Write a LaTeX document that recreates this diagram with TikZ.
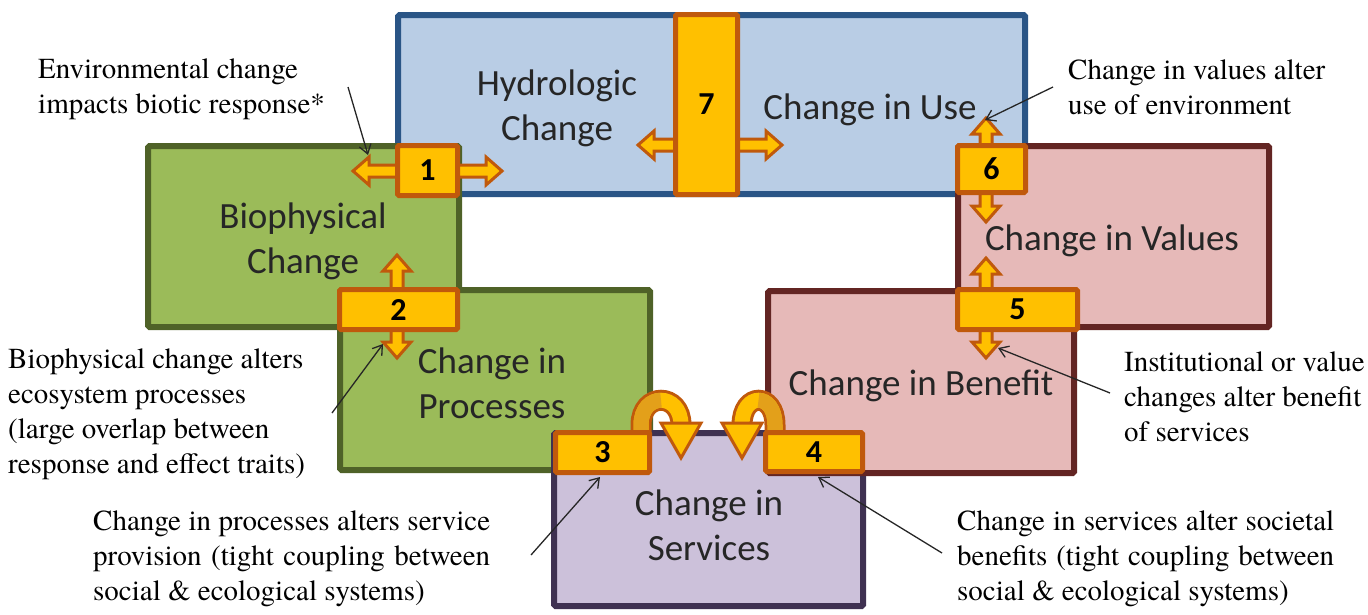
\documentclass[tikz,border=0pt]{standalone}
\usepackage{fontspec}
\newfontfamily\annofont{TeX Gyre Termes}
\newfontfamily\boxfont{Carlito}
\usetikzlibrary{arrows.meta}
\definecolor{bluefill}{HTML}{B9CDE5}
\definecolor{blueline}{HTML}{2A5586}
\definecolor{greenfill}{HTML}{9BBB59}
\definecolor{greenline}{HTML}{4F6228}
\definecolor{purpfill}{HTML}{CCC1DA}
\definecolor{purpline}{HTML}{3F3151}
\definecolor{pinkfill}{HTML}{E6B9B8}
\definecolor{pinkline}{HTML}{632523}
\definecolor{lblfill}{HTML}{FFC000}
\definecolor{lbldark}{HTML}{E3A01A}
\definecolor{lblline}{HTML}{C0590C}
\definecolor{txt}{HTML}{262626}
\tikzset{
  bigbox/.style={line width=6, inner sep=0, rounded corners=1.5},
  boxtext/.style={font=\boxfont\fontsize{37}{45}\selectfont, text=txt, align=center, inner sep=0, anchor=base},
  numbox/.style={fill=lblfill, draw=lblline, line width=5, inner sep=0, rounded corners=1.5,
     font=\boxfont\bfseries\fontsize{32}{36}\selectfont, text=black},
  blockarr/.style={fill=lblfill, draw=lblline, line width=3, line join=miter},
  anno/.style={font=\annofont\fontsize{29}{35}\selectfont, align=left, inner sep=0, anchor=base west, text=black},
  leader/.style={line width=1.3, draw=black!85, -{Straight Barb[length=9pt,width=12pt]}}
}
\newcommand\blockarrow[4]{%
  \begin{scope}[shift={(#1,#2)}, rotate=#3]
    \filldraw[blockarr] (0,-6) -- ({#4-16},-6) -- ({#4-16},-14) -- (#4,0) -- ({#4-16},14) -- ({#4-16},6) -- (0,6) -- cycle;
  \end{scope}}
\begin{document}
\begin{tikzpicture}[x=1pt, y=-1pt]
\useasboundingbox (0,0) rectangle (1368,614);
% main boxes
\node[bigbox, fill=bluefill, draw=blueline, minimum width=627, minimum height=179] (hyd) at (711.5,104.5) {};
\node[bigbox, fill=greenfill, draw=greenline, minimum width=311, minimum height=181] (bio) at (303.5,236.5) {};
\node[bigbox, fill=greenfill, draw=greenline, minimum width=310, minimum height=180] (proc) at (495,380) {};
\node[bigbox, fill=purpfill, draw=purpline, minimum width=309, minimum height=173] (serv) at (708.5,519.5) {};
\node[bigbox, fill=pinkfill, draw=pinkline, minimum width=311, minimum height=181] (vals) at (1113.5,236.5) {};
\node[bigbox, fill=pinkfill, draw=pinkline, minimum width=306, minimum height=182] (bene) at (921,382) {};
% box texts (anchor = baseline of last line)
\node[boxtext] (thyd) at (557,140) {Hydrologic\\Change};
\node[boxtext] (tuse) at (870,119) {Change in Use};
\node[boxtext] (tbio) at (303,273) {Biophysical\\Change};
\node[boxtext] (tproc) at (492,418) {Change in\\Processes};
\node[boxtext] (tserv) at (709,560) {Change in\\Services};
\node[boxtext] (tvals) at (1112,250) {Change in Values};
\node[boxtext] (tbene) at (921,395) {Change in Benefit};
% curved arrows 3 and 4
\draw[line width=21, draw=lblline] (641,450) -- (641,425) .. controls (641,392) and (681,392) .. (681,425);
\draw[line width=15, draw=lblfill] (641,450) -- (641,425) .. controls (641,392) and (681,392) .. (681,425);
\draw[line width=15, draw=lbldark] (641,450) -- (641,425) .. controls (641,408.5) and (651,400.25) .. (661,400.25);
\filldraw[blockarr] (661,423) -- (701,423) -- (681,458) -- cycle;
\draw[line width=21, draw=lblline] (775,450) -- (775,425) .. controls (775,392) and (742,392) .. (742,425);
\draw[line width=15, draw=lblfill] (775,450) -- (775,425) .. controls (775,392) and (742,392) .. (742,425);
\draw[line width=15, draw=lbldark] (775,450) -- (775,425) .. controls (775,408.5) and (766.75,400.25) .. (758.5,400.25);
\filldraw[blockarr] (722,423) -- (762,423) -- (742,458) -- cycle;
% block arrows
\blockarrow{410}{171}{180}{57}
\blockarrow{445}{171}{0}{57}
\blockarrow{397}{300}{90}{45}
\blockarrow{397}{320}{-90}{38}
\blockarrow{986}{300}{90}{42}
\blockarrow{986}{320}{-90}{38}
\blockarrow{986}{160}{90}{42}
\blockarrow{986}{180}{-90}{42}
\blockarrow{690}{145}{180}{52}
\blockarrow{725}{145}{0}{57}
% numbered labels
\node[numbox, minimum width=60, minimum height=50] (n1) at (427.5,170.5) {1};
\node[numbox, minimum width=118, minimum height=40] (n2) at (398.5,309.5) {2};
\node[numbox, minimum width=94, minimum height=40] (n3) at (602.5,452.5) {3};
\node[numbox, minimum width=97, minimum height=39] (n4) at (814,452) {4};
\node[numbox, minimum width=120, minimum height=40] (n5) at (1017.5,309.5) {5};
\node[numbox, minimum width=68, minimum height=47] (n6) at (991.5,169) {6};
\node[numbox, minimum width=62, minimum height=180] (n7) at (706.5,104.5) {7};
% annotations (anchor = baseline of last line)
\node[anno] (a1) at (38,113) {Environmental change\\impacts biotic response*};
\node[anno] (a2) at (8,473) {Biophysical change alters\\ecosystem processes\\(large overlap between\\response and effect traits)};
\node[anno] (a3) at (93,600) {\makebox[397pt][s]{Change in processes alters service}\\\makebox[397pt][s]{provision (tight coupling between}\\social \& ecological systems)};
\node[anno] (a4) at (957,600) {\makebox[377pt][s]{Change in services alter societal}\\\makebox[377pt][s]{benefits (tight coupling between}\\social \& ecological systems)};
\node[anno] (a5) at (1124,441) {Institutional or value\\changes alter benefit\\of services};
\node[anno] (a6) at (1068,114) {Change in values alter\\use of environment};
% leader lines
\coordinate (l1s) at (348,87);   \coordinate (l1e) at (368,155);
\coordinate (l2s) at (332,413);  \coordinate (l2e) at (383,344);
\coordinate (l3s) at (531,555);  \coordinate (l3e) at (600,477);
\coordinate (l4s) at (942,553);  \coordinate (l4e) at (818,477);
\coordinate (l5s) at (1110,393); \coordinate (l5e) at (998,348);
\coordinate (l6s) at (1053,87);  \coordinate (l6e) at (985,120);
\draw[leader] (l1s) -- (l1e);
\draw[leader] (l2s) -- (l2e);
\draw[leader] (l3s) -- (l3e);
\draw[leader] (l4s) -- (l4e);
\draw[leader] (l5s) -- (l5e);
\draw[leader] (l6s) -- (l6e);
\end{tikzpicture}
\end{document}
